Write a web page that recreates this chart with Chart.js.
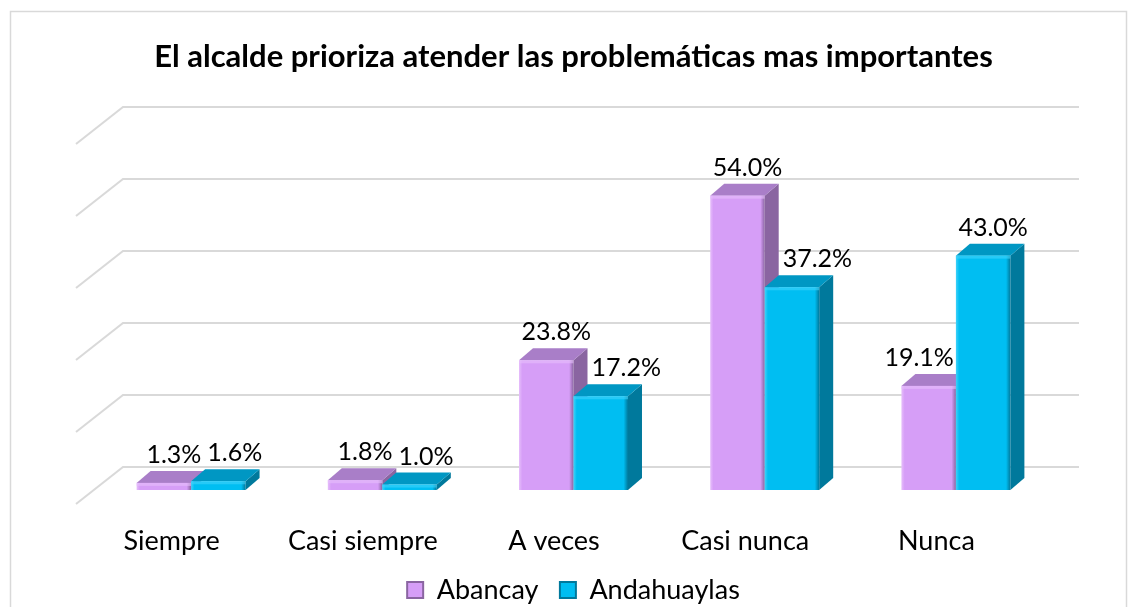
<!DOCTYPE html>
<html>
<head>
<meta charset="utf-8">
<script src="https://cdn.jsdelivr.net/npm/chart.js@4/dist/chart.umd.min.js"></script>
<style>
  html, body { margin: 0; padding: 0; background: #fff; }
  #wrap { width: 1137px; height: 607px; }
</style>
</head>
<body>
<div id="wrap"><canvas id="chart" width="1137" height="607"></canvas></div>
<script>
// chart data
const categories = ['Siempre', 'Casi siempre', 'A veces', 'Casi nunca', 'Nunca'];
const abancay = [1.3, 1.8, 23.8, 54.0, 19.1];
const andahuaylas = [1.6, 1.0, 17.2, 37.2, 43.0];
const seriesNames = ['Abancay', 'Andahuaylas'];
const gridValues = [0, 10, 20, 30, 40, 50];

// 3d look
const BOX_DX = 47, BOX_DY = 37;     // depth of the floor / wall box
const BAR_SHIFT_X = 19.5;           // bars sit a bit behind the front edge
const BAR_DX = 14, BAR_DY = 12;     // depth of each column
const FONT = 'Lato, "Open Sans", sans-serif';

const faces = [
  { front: '#D69EF7', light: '#E6BEFB', top: '#A97EC8', side: '#8A65A1' },
  { front: '#00BEF2', light: '#3FD2FA', top: '#0097C3', side: '#00799C' }
];

function drawColumn(ctx, el, f) {
  const l = el.x - el.width / 2, r = el.x + el.width / 2;
  const t = el.y, b = el.base;
  // side
  ctx.fillStyle = f.side;
  ctx.beginPath();
  ctx.moveTo(r, t); ctx.lineTo(r + BAR_DX, t - BAR_DY);
  ctx.lineTo(r + BAR_DX, b - BAR_DY); ctx.lineTo(r, b);
  ctx.closePath(); ctx.fill();
  // top
  ctx.fillStyle = f.top;
  ctx.beginPath();
  ctx.moveTo(l, t); ctx.lineTo(l + BAR_DX, t - BAR_DY);
  ctx.lineTo(r + BAR_DX, t - BAR_DY); ctx.lineTo(r, t);
  ctx.closePath(); ctx.fill();
  // front with soft bevel on the edges
  const g = ctx.createLinearGradient(l, 0, r, 0);
  g.addColorStop(0, f.light);
  g.addColorStop(0.06, f.front);
  g.addColorStop(0.92, f.front);
  g.addColorStop(1, f.side);
  ctx.fillStyle = g;
  ctx.fillRect(l, t, r - l, b - t);
  ctx.fillStyle = f.light;
  ctx.globalAlpha = 0.6;
  ctx.fillRect(l, t, r - l, Math.min(3, b - t));
  ctx.globalAlpha = 1;
}

const box3d = {
  id: 'box3d',
  beforeDraw(chart) {
    const ctx = chart.ctx;
    ctx.save();
    ctx.fillStyle = '#fff';
    ctx.fillRect(0, 0, chart.width, chart.height);
    ctx.strokeStyle = '#d9d9d9';
    ctx.lineWidth = 1.5;
    ctx.strokeRect(10.5, 11.5, 1116, 700);
    ctx.restore();
  },
  beforeDatasetsDraw(chart) {
    const ctx = chart.ctx, area = chart.chartArea, y2 = chart.scales.y2;
    const frontL = area.left - BAR_SHIFT_X;
    const frontR = area.right - BAR_SHIFT_X;
    ctx.save();
    ctx.strokeStyle = '#d9d9d9';
    ctx.lineWidth = 2;
    gridValues.forEach(v => {
      const gy = y2.getPixelForValue(v);
      ctx.beginPath();
      ctx.moveTo(frontL, gy + BOX_DY);
      ctx.lineTo(frontL + BOX_DX, gy);
      ctx.lineTo(frontR + BOX_DX, gy);
      ctx.stroke();
    });
    ctx.restore();
  },
  beforeDatasetDraw() {
    return false; // columns are drawn by hand below
  },
  afterDatasetsDraw(chart) {
    const ctx = chart.ctx;
    const m0 = chart.getDatasetMeta(0).data, m1 = chart.getDatasetMeta(1).data;
    ctx.save();
    m0.forEach((el, i) => {
      drawColumn(ctx, m0[i], faces[0]);
      drawColumn(ctx, m1[i], faces[1]);
    });

    // value labels
    ctx.font = '25px ' + FONT;
    ctx.fillStyle = '#000';
    ctx.textBaseline = 'alphabetic';
    ctx.textAlign = 'left';
    const h = 18, gap = 8;
    m0.forEach((e0, i) => {
      const e1 = m1[i];
      const t0 = abancay[i].toFixed(1) + '%', t1 = andahuaylas[i].toFixed(1) + '%';
      const w0 = ctx.measureText(t0).width, w1 = ctx.measureText(t1).width;
      let b0 = e0.y - BAR_DY - gap, b1 = e1.y - BAR_DY - gap;
      let x0 = e0.x + 10 - w0 / 2, x1 = e1.x + 10 - w1 / 2;
      const r0 = e0.x + e0.width / 2 + BAR_DX;
      const l1 = e1.x - e1.width / 2;
      if (abancay[i] > andahuaylas[i] && b1 > e0.y - BAR_DY) x1 = Math.max(x1, r0 + 4);
      if (andahuaylas[i] > abancay[i] && b0 > e1.y - BAR_DY) x0 = Math.min(x0, l1 - 2 - w0);
      if (b0 - h < b1 && b1 - h < b0 && x0 + w0 + 6 > x1) x1 = x0 + w0 + 6;
      ctx.fillText(t0, x0, b0);
      ctx.fillText(t1, x1, b1);
    });
    ctx.restore();
  }
};

new Chart(document.getElementById('chart'), {
  type: 'bar',
  data: {
    labels: categories,
    datasets: [
      { label: seriesNames[0], data: abancay, backgroundColor: faces[0].front, borderColor: faces[0].side, borderWidth: 2, yAxisID: 'y' },
      { label: seriesNames[1], data: andahuaylas, backgroundColor: faces[1].front, borderColor: faces[1].side, borderWidth: 2, yAxisID: 'y' }
    ]
  },
  options: {
    responsive: false,
    animation: false,
    events: [],
    layout: { padding: { left: 95.5, right: 85.5, top: 0, bottom: -6.5 } },
    datasets: { bar: { categoryPercentage: 0.57, barPercentage: 1 } },
    scales: {
      x: {
        grid: { display: false, drawTicks: false },
        border: { display: false },
        ticks: { color: '#000', font: { family: FONT, size: 27 }, padding: 35, labelOffset: -BAR_SHIFT_X, maxRotation: 0 },
        afterFit(scale) { scale.height = 65; }
      },
      y: { display: false, min: 0, max: 71.56 },
      y2: { display: false, min: -3.194, max: 50.972 }
    },
    plugins: {
      title: {
        display: true,
        text: 'El alcalde prioriza atender las problemáticas mas importantes',
        color: '#000',
        font: { family: FONT, size: 31, weight: 'bold' },
        padding: { top: 38.4, bottom: 24.4 }
      },
      legend: {
        position: 'bottom',
        labels: { color: '#000', font: { family: FONT, size: 27 }, boxWidth: 16, boxHeight: 16, padding: 21.5 }
      },
      tooltip: { enabled: false }
    }
  },
  plugins: [box3d]
});
</script>
</body>
</html>
